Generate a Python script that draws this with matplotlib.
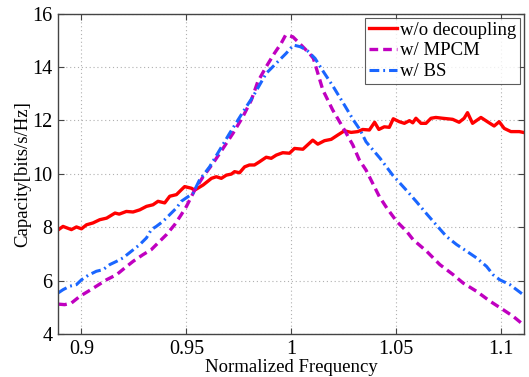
import matplotlib
matplotlib.use("Agg")
import matplotlib.pyplot as plt

# ---- data ----
x_wo = [0.8889, 0.8912, 0.8952, 0.8976, 0.9000, 0.9024, 0.9055, 0.9087, 0.9120, 0.9160,
        0.9180, 0.9214, 0.9246, 0.9278, 0.9310, 0.9341, 0.9365, 0.9397, 0.9421, 0.9453,
        0.9476, 0.9492, 0.9524, 0.9540, 0.9580, 0.9620, 0.9643, 0.9667, 0.9691, 0.9715,
        0.9730, 0.9754, 0.9778, 0.9801, 0.9825, 0.9849, 0.9881, 0.9905, 0.9929, 0.9960,
        0.9992, 1.0016, 1.0056, 1.0103, 1.0127, 1.0159, 1.0191, 1.0222, 1.0254, 1.0286,
        1.0318, 1.0341, 1.0373, 1.0398, 1.0418, 1.0444, 1.0468, 1.0487, 1.0516, 1.0540,
        1.0564, 1.0580, 1.0595, 1.0619, 1.0643, 1.0667, 1.0690, 1.0722, 1.0770, 1.0801,
        1.0825, 1.0841, 1.0865, 1.0905, 1.0936, 1.0968, 1.0992, 1.1016, 1.1048, 1.1088,
        1.1107]
y_wo = [7.90, 8.03, 7.91, 8.01, 7.94, 8.09, 8.16, 8.28, 8.34, 8.53,
        8.49, 8.59, 8.57, 8.65, 8.78, 8.84, 8.97, 8.91, 9.16, 9.22,
        9.40, 9.52, 9.46, 9.39, 9.58, 9.83, 9.89, 9.83, 9.95, 9.99,
        10.08, 10.04, 10.26, 10.33, 10.33, 10.45, 10.62, 10.58, 10.70, 10.79,
        10.77, 10.95, 10.92, 11.26, 11.11, 11.24, 11.29, 11.45, 11.61, 11.55,
        11.58, 11.66, 11.64, 11.93, 11.66, 11.76, 11.74, 12.06, 11.95, 11.89,
        11.99, 11.91, 12.08, 11.89, 11.89, 12.08, 12.11, 12.08, 12.04, 11.93,
        12.08, 12.29, 11.89, 12.11, 11.95, 11.79, 11.95, 11.70, 11.58, 11.58,
        11.55]

x_mpcm = [0.8889, 0.8920, 0.8952, 0.8992, 0.9032, 0.9071, 0.9119, 0.9167, 0.9206, 0.9246,
          0.9293, 0.9333, 0.9365, 0.9405, 0.9444, 0.9476, 0.9500, 0.9540, 0.9580, 0.9627,
          0.9675, 0.9722, 0.9770, 0.9810, 0.9841, 0.9881, 0.9920, 0.9952, 0.9974, 1.0008,
          1.0040, 1.0087, 1.0106, 1.0151, 1.0198, 1.0254, 1.0294, 1.0325, 1.0357, 1.0389,
          1.0421, 1.0456, 1.0503, 1.0550, 1.0582, 1.0646, 1.0709, 1.0773, 1.0820, 1.0884,
          1.0948, 1.1011, 1.1059, 1.1107]
y_mpcm = [5.12, 5.10, 5.16, 5.41, 5.60, 5.79, 6.03, 6.22, 6.47, 6.72,
          6.97, 7.16, 7.41, 7.72, 8.09, 8.47, 8.77, 9.39, 9.89, 10.39,
          10.95, 11.51, 12.14, 12.76, 13.45, 14.01, 14.51, 14.88, 15.20, 15.13,
          14.88, 14.51, 14.32, 13.14, 12.39, 11.64, 11.08, 10.52, 10.14, 9.64,
          9.14, 8.72, 8.22, 7.85, 7.53, 7.10, 6.60, 6.22, 5.91, 5.60,
          5.23, 4.91, 4.66, 4.35]

x_bs = [0.8889, 0.8912, 0.8944, 0.8976, 0.9000, 0.9032, 0.9071, 0.9103, 0.9135, 0.9167,
        0.9198, 0.9238, 0.9278, 0.9310, 0.9333, 0.9357, 0.9389, 0.9421, 0.9453, 0.9476,
        0.9500, 0.9532, 0.9563, 0.9611, 0.9659, 0.9706, 0.9746, 0.9786, 0.9817, 0.9849,
        0.9881, 0.9929, 0.9976, 1.0011, 1.0043, 1.0075, 1.0114, 1.0154, 1.0201, 1.0249,
        1.0297, 1.0329, 1.0357, 1.0424, 1.0484, 1.0550, 1.0598, 1.0646, 1.0706,
        1.0741, 1.0789, 1.0837, 1.0884, 1.0932, 1.0963, 1.0995, 1.1043, 1.1107]
y_bs = [5.54, 5.66, 5.79, 5.85, 6.03, 6.20, 6.35, 6.41, 6.60, 6.72,
        6.85, 7.10, 7.35, 7.60, 7.91, 8.03, 8.22, 8.47, 8.72, 8.97,
        9.10, 9.27, 9.77, 10.26, 10.89, 11.51, 12.01, 12.51, 12.88, 13.32,
        13.76, 14.14, 14.51, 14.82, 14.76, 14.63, 14.32, 13.82, 13.26, 12.64,
        12.01, 11.64, 11.20, 10.58, 9.95, 9.38, 8.95, 8.50, 7.96,
        7.65, 7.35, 7.10, 6.85, 6.53, 6.22, 6.03, 5.85, 5.47]

labels = ["w/o decoupling", "w/ MPCM", "w/ BS"]
x_ticks = [0.9, 0.95, 1.0, 1.05, 1.1]
x_tick_labels = ["0.9", "0.95", "1", "1.05", "1.1"]
y_ticks = [4, 6, 8, 10, 12, 14, 16]

plt.rcParams['font.family'] = ['Liberation Serif', 'DejaVu Serif']

fig = plt.figure(figsize=(5.29, 3.77), dpi=100)
ax = fig.add_axes([0.110, 0.114, 0.880, 0.850])

ax.plot(x_wo, y_wo, color='#ff0000', lw=2.4, ls='-', label=labels[0])
ax.plot(x_mpcm, y_mpcm, color='#c000c0', lw=2.4, ls=(0, (2.6, 1.5)), label=labels[1])
ax.plot(x_bs, y_bs, color='#1a66ff', lw=2.2, ls=(0, (3.2, 1.3, 0.6, 1.3)), label=labels[2])

ax.set_xlim(0.8889, 1.1109)
ax.set_ylim(4, 16)
ax.set_xticks(x_ticks)
ax.set_xticklabels(x_tick_labels)
ax.set_yticks(y_ticks)
ax.tick_params(direction='in', top=True, right=True, labelsize=14.5, length=4,
               color='#444444', pad=4)
for s in ax.spines.values():
    s.set_color('#444444')
    s.set_linewidth(1.0)
ax.grid(True, ls=(0, (1, 2.5)), color='#b0b0b0', lw=0.8)
ax.set_axisbelow(True)

ax.set_xlabel('Normalized Frequency', fontsize=13.5, labelpad=0)
ax.set_ylabel('Capacity[bits/s/Hz]', fontsize=13.5, labelpad=1)

leg = ax.legend(loc='upper right', fontsize=13.5, frameon=True, fancybox=False,
                edgecolor='#333333', borderpad=0.2, labelspacing=0.2,
                handlelength=1.5, handletextpad=0.15, borderaxespad=0.22)
leg.get_frame().set_linewidth(0.8)

fig.savefig('out.png', dpi=100)
